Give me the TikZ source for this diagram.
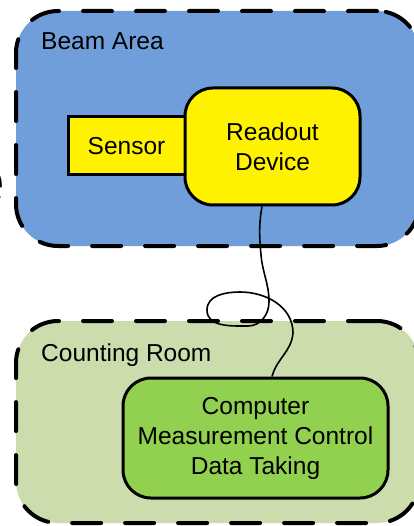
\documentclass[tikz,border=0pt]{standalone}
\usepackage{fontspec}
\setmainfont{Liberation Sans}
\definecolor{beamblue}{RGB}{112,158,218}
\definecolor{roomgreen}{RGB}{204,220,172}
\definecolor{compgreen}{RGB}{146,208,80}

\begin{document}
\begin{tikzpicture}[x=1pt,y=1pt,
  area/.style={draw=black,line width=4pt,line cap=round,dash pattern=on 29pt off 24pt,
    rounded corners=42pt,inner sep=0pt},
  main node/.style={draw=black,line width=3pt,align=center,inner sep=0pt,
    font=\fontsize{24.5}{30}\selectfont},
  title/.style={anchor=west,inner sep=0pt,font=\fontsize{24.5}{30}\selectfont},
  cable/.style={draw=black,line width=1.6pt}]

  \useasboundingbox (0,0) rectangle (413,-526);

  % cut-off letter at the left edge
  \node[anchor=east,inner sep=0pt,font=\fontsize{72}{72}\selectfont] (cut) at (5.5,-186) {e};

  % areas
  \node[area,fill=beamblue,minimum width=403,minimum height=235]  (beam) at (217.5,-128.5) {};
  \node[area,fill=roomgreen,minimum width=403,minimum height=202] (room) at (217.5,-422) {};
  \node[title] (beamlabel) at (41,-41)  {Beam Area};
  \node[title] (roomlabel) at (41,-355) {Counting Room};

  % devices
  \node[main node,fill=yellow,minimum width=117,minimum height=58] (sensor) at (126.5,-146) {Sensor};
  \node[main node,fill=yellow,rounded corners=28pt,minimum width=175,minimum height=117] (readout) at (272.5,-146.5) {Readout\\Device};
  \node[main node,fill=compgreen,rounded corners=28pt,minimum width=265,minimum height=120] (computer) at (255.5,-438) {Computer\\Measurement Control\\Data Taking};

  % cable
  \draw[cable] ([xshift=-10.5pt]readout.south)
    to[out=-100,in=95] (261,-255)
    to[out=-85,in=90]  (269,-302)
    to[out=-90,in=0]   (248,-326)
    to[out=180,in=-90] (207,-310)
    to[out=90,in=180]  (240,-292)
    to[out=0,in=90]    (293,-333)
    to[out=-95,in=75]  ([xshift=16.5pt]computer.north);

\end{tikzpicture}
\end{document}
